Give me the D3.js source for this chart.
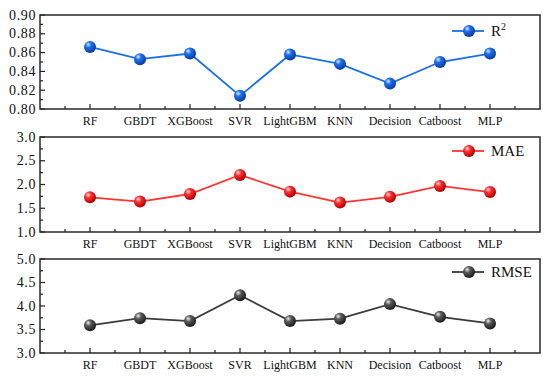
<!DOCTYPE html>
<html><head><meta charset="utf-8">
<script src="https://cdn.jsdelivr.net/npm/d3@7"></script>
<style>body{margin:0;background:#fff}svg{display:block}</style>
</head><body>
<svg id="c" width="550" height="380"></svg>
<script>
const categories = ["RF","GBDT","XGBoost","SVR","LightGBM","KNN","Decision","Catboost","MLP"];
const r2Values   = [0.866,0.853,0.859,0.814,0.858,0.848,0.827,0.850,0.859];
const maeValues  = [1.73,1.64,1.80,2.20,1.85,1.62,1.74,1.97,1.84];
const rmseValues = [3.59,3.74,3.68,4.23,3.68,3.73,4.04,3.77,3.63];
const r2Ticks   = [0.80,0.82,0.84,0.86,0.88,0.90];
const maeTicks  = [1.0,1.5,2.0,2.5,3.0];
const rmseTicks = [3.0,3.5,4.0,4.5,5.0];

const svg = d3.select("#c");
const font = "'Liberation Serif','Times New Roman',serif";
const defs = svg.append("defs");

const panels = [
  {name:"R2", values:r2Values, ticks:r2Ticks, fmt:d3.format(".2f"), top:15, bottom:109,
   line:"#1a70e6", hi:"#d6ecff", mid:"#1c6ff0", dark:"#0a3a9a", legendY:31},
  {name:"MAE", values:maeValues, ticks:maeTicks, fmt:d3.format(".1f"), top:137, bottom:232,
   line:"#ff3535", hi:"#ffe0e0", mid:"#ff3030", dark:"#a80000", legendY:151},
  {name:"RMSE", values:rmseValues, ticks:rmseTicks, fmt:d3.format(".1f"), top:259, bottom:353,
   line:"#3c3c3c", hi:"#eeeeee", mid:"#5a5a5a", dark:"#1a1a1a", legendY:272}
];

const x = d3.scaleLinear().domain([0,10]).range([40,540]);

panels.forEach((p,i)=>{
  const g = svg.append("g");
  const tks = p.ticks;
  const y = d3.scaleLinear().domain([tks[0], tks[tks.length-1]]).range([p.bottom,p.top]);
  const gid = "grad"+i;
  const gr = defs.append("radialGradient").attr("id",gid).attr("cx","35%").attr("cy","32%").attr("r","70%").attr("fx","35%").attr("fy","30%");
  gr.append("stop").attr("offset","0%").attr("stop-color",p.hi);
  gr.append("stop").attr("offset","35%").attr("stop-color",p.mid);
  gr.append("stop").attr("offset","100%").attr("stop-color",p.dark);

  // y axis ticks (inward), major + minor
  const step = tks[1]-tks[0];
  const minor = tks.slice(0,-1).map(t=>t+step/2);
  g.selectAll(".ymaj").data(tks).enter().append("line")
    .attr("x1",40).attr("x2",45).attr("y1",d=>y(d)).attr("y2",d=>y(d))
    .attr("stroke","#222").attr("stroke-width",1.2);
  g.selectAll(".ymin").data(minor).enter().append("line")
    .attr("x1",40).attr("x2",43).attr("y1",d=>y(d)).attr("y2",d=>y(d))
    .attr("stroke","#222").attr("stroke-width",1.2);
  g.selectAll(".ylab").data(tks).enter().append("text")
    .attr("x",36).attr("y",d=>y(d)+4.5).attr("text-anchor","end")
    .style("font-family",font).style("font-size","14px").style("letter-spacing","0.6px").attr("fill","#111")
    .text(d=>p.fmt(d));

  // x axis ticks (inward)
  const xs = d3.range(1,10);
  const xm = d3.range(0.5,10,1);
  g.selectAll(".xmaj").data(xs).enter().append("line")
    .attr("x1",d=>x(d)).attr("x2",d=>x(d)).attr("y1",p.bottom).attr("y2",p.bottom-5)
    .attr("stroke","#222").attr("stroke-width",1.2);
  g.selectAll(".xmin").data(xm).enter().append("line")
    .attr("x1",d=>x(d)).attr("x2",d=>x(d)).attr("y1",p.bottom).attr("y2",p.bottom-3)
    .attr("stroke","#222").attr("stroke-width",1.2);
  g.selectAll(".xlab").data(categories).enter().append("text")
    .attr("x",(d,j)=>x(j+1)).attr("y",p.bottom+15.5).attr("text-anchor","middle")
    .style("font-family",font).style("font-size","12px").attr("fill","#111")
    .text(d=>d);

  // frame
  g.append("rect").attr("x",40).attr("y",p.top).attr("width",500).attr("height",p.bottom-p.top)
    .attr("fill","none").attr("stroke","#2a2a2a").attr("stroke-width",1.5);

  // line + markers
  const line = d3.line().x((d,j)=>x(j+1)).y(d=>y(d));
  g.append("path").datum(p.values).attr("d",line).attr("fill","none")
    .attr("stroke",p.line).attr("stroke-width",1.8);
  g.selectAll(".pt").data(p.values).enter().append("circle")
    .attr("cx",(d,j)=>x(j+1)).attr("cy",d=>y(d)).attr("r",6)
    .attr("fill",`url(#${gid})`);

  // legend
  g.append("line").attr("x1",452).attr("x2",484).attr("y1",p.legendY).attr("y2",p.legendY)
    .attr("stroke",p.line).attr("stroke-width",1.8);
  g.append("circle").attr("cx",469).attr("cy",p.legendY).attr("r",6).attr("fill",`url(#${gid})`);
  const t = g.append("text").attr("x",491).attr("y",p.legendY+5)
    .style("font-family",font).style("font-size","15px").attr("fill","#111");
  if (p.name==="R2") {
    t.append("tspan").text("R");
    t.append("tspan").attr("dy",-6).style("font-size","10px").text("2");
  } else t.text(p.name);
});
</script>
</body></html>
